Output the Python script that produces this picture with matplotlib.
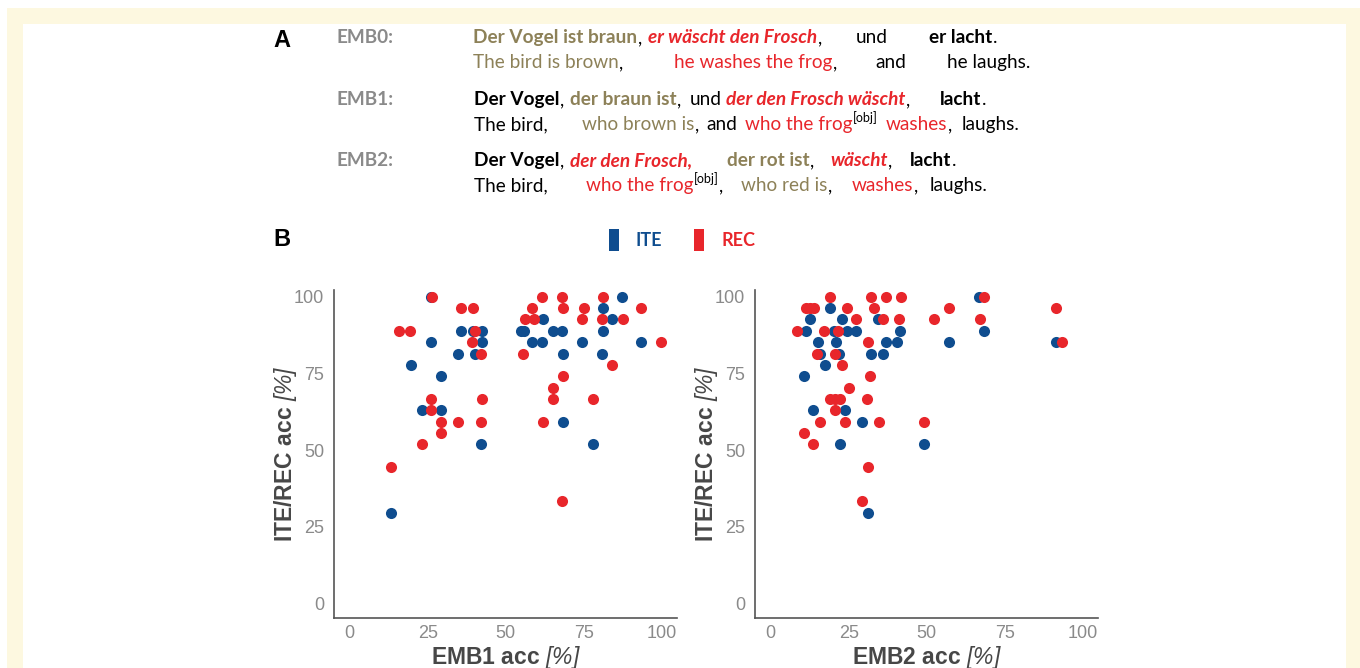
import matplotlib
matplotlib.use("Agg")
import matplotlib.pyplot as plt
from matplotlib.patches import Rectangle

W, H = 1360, 668

BLUE = "#0f4d8f"
RED = "#e8262b"
OLIVE = "#8d8158"
GRAY = "#8a8a8a"
DARK = "#474747"
CREAM = "#fdf8e0"
TEXT_FONT = "Lato"

plt.rcParams["font.family"] = ["Liberation Sans", "DejaVu Sans"]
plt.rcParams["mathtext.fontset"] = "custom"
# symbols like [ and % are taken from the rm slot, so make that the italic face
plt.rcParams["mathtext.rm"] = "Liberation Sans:italic"
plt.rcParams["mathtext.bf"] = "Liberation Sans:bold"
plt.rcParams["mathtext.it"] = "Liberation Sans:italic"

# ---- panel B data (accuracy in %) ----
emb1_ite_x = [26.0, 35.6, 39.6, 42.5, 26.0, 42.5, 34.7, 40.1, 19.6, 29.2, 23.1, 29.2, 42.0, 13.4,
              87.2, 81.0, 61.8, 84.0, 54.8, 55.8, 65.0, 67.9, 81.0, 58.3, 61.5, 74.4, 93.3, 68.4,
              80.8, 68.2, 77.8]
emb1_ite_y = [100, 88.9, 88.9, 88.9, 85.2, 85.2, 81.5, 81.5, 77.8, 74.1, 63.0, 63.0, 51.9, 29.6,
              100, 96.3, 92.6, 92.6, 88.9, 88.9, 88.9, 88.9, 88.9, 85.2, 85.2, 85.2, 85.2, 81.5,
              81.5, 59.3, 51.9]
emb1_rec_x = [26.3, 35.6, 39.6, 15.8, 19.3, 40.2, 39.3, 42.0, 26.0, 42.3, 26.0, 29.2, 34.7, 42.0,
              29.2, 23.1, 13.4, 61.5, 67.9, 81.0, 58.3, 68.2, 74.9, 93.3, 56.1, 58.9, 74.4, 80.8,
              87.4, 99.8, 55.6, 84.0, 68.4, 65.2, 65.2, 77.8, 62.0, 67.9]
emb1_rec_y = [100, 96.3, 96.3, 88.9, 88.9, 88.9, 85.2, 81.5, 66.7, 66.7, 63.0, 59.3, 59.3, 59.3,
              55.6, 51.9, 44.4, 100, 100, 100, 96.3, 96.3, 96.3, 96.3, 92.6, 92.6, 92.6, 92.6,
              92.6, 85.2, 81.5, 77.8, 74.1, 70.4, 66.7, 66.7, 59.3, 33.3]

emb2_ite_x = [19.0, 12.6, 22.7, 34.5, 11.3, 20.2, 24.5, 27.4, 41.4, 15.3, 20.8, 36.9, 40.3, 15.8,
              21.8, 32.1, 35.9, 17.3, 10.7, 13.6, 23.9, 29.2, 22.3, 49.0, 31.1, 66.7, 68.3, 57.2,
              91.5]
emb2_ite_y = [96.3, 92.6, 92.6, 92.6, 88.9, 88.9, 88.9, 88.9, 88.9, 85.2, 85.2, 85.2, 85.2, 81.5,
              81.5, 81.5, 81.5, 77.8, 74.1, 63.0, 63.0, 59.3, 51.9, 51.9, 29.6, 100, 88.9, 85.2,
              85.2]
emb2_rec_x = [19.0, 32.1, 36.9, 41.6, 68.3, 11.3, 12.6, 13.9, 24.5, 33.2, 57.2, 91.5, 27.4, 35.9,
              41.0, 52.2, 66.9, 8.4, 17.1, 21.5, 31.3, 93.3, 15.0, 20.5, 22.7, 31.9, 25.0, 19.0,
              20.5, 22.1, 31.0, 20.5, 15.8, 23.9, 34.8, 49.0, 10.7, 13.6, 31.1, 29.3]
emb2_rec_y = [100, 100, 100, 100, 100, 96.3, 96.3, 96.3, 96.3, 96.3, 96.3, 96.3, 92.6, 92.6,
              92.6, 92.6, 92.6, 88.9, 88.9, 88.9, 85.2, 85.2, 81.5, 81.5, 77.8, 74.1, 70.4, 66.7,
              66.7, 66.7, 66.7, 63.0, 59.3, 59.3, 59.3, 59.3, 55.6, 51.9, 44.4, 33.3]

TICKS = [0, 25, 50, 75, 100]

# ---- panel A sentences ----
# each piece: (text, colour, weight, style, superscript)
B_, I_, N_ = "bold", "italic", "normal"
EMB_LABELS = [("EMB0:", 43), ("EMB1:", 105), ("EMB2:", 166)]
SENTENCE_GROUPS = [
    # baseline y, start x, pieces
    (43, 473, [("Der Vogel ist braun", OLIVE, B_, N_, False), (",", "black", N_, N_, False)]),
    (43, 648, [("er wäscht den Frosch", RED, B_, I_, False), (",", "black", N_, N_, False)]),
    (43, 856, [("und", "black", N_, N_, False)]),
    (43, 929, [("er lacht", "black", B_, N_, False), (".", "black", N_, N_, False)]),
    (68, 473, [("The bird is brown", OLIVE, N_, N_, False), (",", "black", N_, N_, False)]),
    (68, 674, [("he washes the frog", RED, N_, N_, False), (",", "black", N_, N_, False)]),
    (68, 875, [("and", "black", N_, N_, False)]),
    (68, 947, [("he laughs.", "black", N_, N_, False)]),
    (105, 474, [("Der Vogel", "black", B_, N_, False), (",", "black", N_, N_, False)]),
    (105, 570, [("der braun ist", OLIVE, B_, N_, False), (",", "black", N_, N_, False)]),
    (105, 690, [("und", "black", N_, N_, False)]),
    (105, 726, [("der den Frosch wäscht", RED, B_, I_, False), (",", "black", N_, N_, False)]),
    (105, 940, [("lacht", "black", B_, N_, False), (".", "black", N_, N_, False)]),
    (130, 474, [("The bird,", "black", N_, N_, False)]),
    (130, 582, [("who brown is", OLIVE, N_, N_, False), (",", "black", N_, N_, False)]),
    (130, 706, [("and", "black", N_, N_, False)]),
    (130, 745, [("who the frog", RED, N_, N_, False), ("[obj]", "black", N_, N_, True)]),
    (130, 886, [("washes", RED, N_, N_, False), (",", "black", N_, N_, False)]),
    (130, 962, [("laughs.", "black", N_, N_, False)]),
    (166, 474, [("Der Vogel", "black", B_, N_, False), (",", "black", N_, N_, False)]),
    (166, 570, [("der den Frosch,", RED, B_, I_, False)]),
    (166, 727, [("der rot ist", OLIVE, B_, N_, False), (",", "black", N_, N_, False)]),
    (166, 830, [("wäscht", RED, B_, I_, False), (",", "black", N_, N_, False)]),
    (166, 910, [("lacht", "black", B_, N_, False), (".", "black", N_, N_, False)]),
    (191, 474, [("The bird,", "black", N_, N_, False)]),
    (191, 586, [("who the frog", RED, N_, N_, False), ("[obj]", "black", N_, N_, True),
                (",", "black", N_, N_, False)]),
    (191, 741, [("who red is", OLIVE, N_, N_, False), (",", "black", N_, N_, False)]),
    (191, 852, [("washes", RED, N_, N_, False), (",", "black", N_, N_, False)]),
    (191, 930, [("laughs.", "black", N_, N_, False)]),
]
TEXT_SIZE = 13.7


def fx(x):
    return x / W


def fy(y):
    return 1 - y / H


def draw_pieces(fig, renderer, x, y, pieces):
    for text, color, weight, style, sup in pieces:
        size = TEXT_SIZE * 0.66 if sup else TEXT_SIZE
        yy = y - 8 if sup else y
        t = fig.text(fx(x), fy(yy), text, color=color, fontsize=size, fontweight=weight,
                     fontstyle=style, family=TEXT_FONT, ha="left", va="baseline")
        x = t.get_window_extent(renderer).x1 + 0.5


def make_panel(fig, left_px, ite_x, ite_y, rec_x, rec_y, xlabel):
    ax = fig.add_axes([fx(left_px), fy(618), 343 / W, 328 / H])
    ax.set_facecolor("white")
    ax.scatter(ite_x, ite_y, s=64, color=BLUE, linewidths=0, zorder=3)
    ax.scatter(rec_x, rec_y, s=64, color=RED, linewidths=0, zorder=4)
    ax.set_xlim(-5, 104.8)
    ax.set_ylim(-4.7, 102.2)
    ax.set_xticks(TICKS)
    ax.set_yticks(TICKS)
    for side in ("top", "right"):
        ax.spines[side].set_visible(False)
    for side in ("left", "bottom"):
        ax.spines[side].set_color("#555555")
        ax.spines[side].set_linewidth(1.2)
    ax.tick_params(length=0, labelsize=13, labelcolor=GRAY)
    ax.tick_params(axis="y", pad=7)
    ax.tick_params(axis="x", pad=5)
    ax.set_xlabel(xlabel, fontsize=16.5, color=DARK)
    ax.xaxis.set_label_coords(0.5, -0.119)
    ax.xaxis.label.set_va("center")
    ax.set_ylabel(r"$\mathbf{ITE/REC\ acc}\ [\%]$", fontsize=16.5, color=DARK)
    ax.yaxis.set_label_coords(-0.14, 0.5)
    ax.yaxis.label.set_va("center")
    return ax


def main():
    fig = plt.figure(figsize=(W / 100, H / 100), dpi=100)
    fig.patch.set_facecolor("white")
    fig.add_artist(Rectangle((fx(7), 0), (W - 7) / W, (H - 8) / H, transform=fig.transFigure,
                             facecolor=CREAM, edgecolor="none", zorder=-10))
    fig.add_artist(Rectangle((fx(23), 0), (1346 - 23) / W, (H - 24) / H, transform=fig.transFigure,
                             facecolor="white", edgecolor="none", zorder=-9))

    renderer = fig.canvas.get_renderer()

    # panel A
    fig.text(fx(273), fy(47), "A", fontsize=17, fontweight="bold", ha="left", va="baseline")
    for label, y in EMB_LABELS:
        fig.text(fx(337), fy(y), label, fontsize=TEXT_SIZE, fontweight="bold", color=GRAY,
                 family=TEXT_FONT, ha="left", va="baseline")
    for y, x, pieces in SENTENCE_GROUPS:
        draw_pieces(fig, renderer, x, y, pieces)

    # panel B
    fig.text(fx(273), fy(246), "B", fontsize=17, fontweight="bold", ha="left", va="baseline")
    make_panel(fig, 334, emb1_ite_x, emb1_ite_y, emb1_rec_x, emb1_rec_y,
               r"$\mathbf{EMB1\ acc}\ [\%]$")
    make_panel(fig, 755, emb2_ite_x, emb2_ite_y, emb2_rec_x, emb2_rec_y,
               r"$\mathbf{EMB2\ acc}\ [\%]$")

    handles = [Rectangle((0, 0), 1, 1, facecolor=BLUE, edgecolor="none"),
               Rectangle((0, 0), 1, 1, facecolor=RED, edgecolor="none")]
    leg = fig.legend(handles, ["ITE", "REC"], loc="center", bbox_to_anchor=(fx(682), fy(240)),
                     ncol=2, frameon=False, handlelength=0.55, handleheight=1.5,
                     handletextpad=0.95, columnspacing=1.75,
                     prop={"family": TEXT_FONT, "weight": "bold", "size": 13})
    for txt, c in zip(leg.get_texts(), [BLUE, RED]):
        txt.set_color(c)

    fig.savefig("out.png", dpi=100)
    plt.close(fig)


if __name__ == "__main__":
    main()
